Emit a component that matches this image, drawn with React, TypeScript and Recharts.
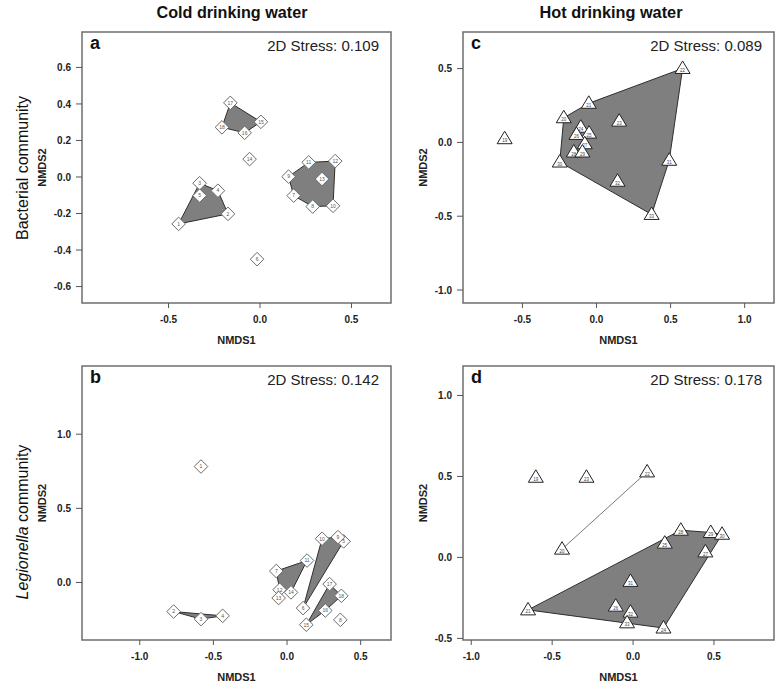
import React from 'react';
import { ScatterChart, Scatter, XAxis, YAxis, ReferenceArea } from 'recharts';

type Pt = { id: string; x: number; y: number };

const FONT = "'Liberation Sans', Arial, Helvetica, sans-serif";

// ---------- data ----------
const columnTitles = ['Cold drinking water', 'Hot drinking water'];
const panelLetters = ['a', 'b', 'c', 'd'];
const stressValues = ['0.109', '0.142', '0.089', '0.178'];

const aPoints: Pt[] = [
  { id: '1', x: -0.445, y: -0.257 },
  { id: '2', x: -0.175, y: -0.202 },
  { id: '3', x: -0.33, y: -0.034 },
  { id: '4', x: -0.23, y: -0.075 },
  { id: '5', x: -0.33, y: -0.102 },
  { id: '6', x: -0.016, y: -0.45 },
  { id: '7', x: 0.184, y: -0.102 },
  { id: '8', x: 0.288, y: -0.162 },
  { id: '9', x: 0.156, y: 0.002 },
  { id: '10', x: 0.399, y: -0.158 },
  { id: '11', x: 0.266, y: 0.08 },
  { id: '12', x: 0.411, y: 0.087 },
  { id: '13', x: 0.339, y: -0.011 },
  { id: '14', x: -0.057, y: 0.098 },
  { id: '15', x: 0.005, y: 0.302 },
  { id: '16', x: -0.084, y: 0.242 },
  { id: '17', x: -0.162, y: 0.406 },
  { id: '18', x: -0.208, y: 0.272 },
];
const aGroups: string[][] = [
  ['1', '2', '3', '4', '5'],
  ['7', '8', '9', '10', '11', '12', '13'],
  ['15', '16', '17', '18'],
];

const bPoints: Pt[] = [
  { id: '1', x: -0.584, y: 0.782 },
  { id: '2', x: -0.77, y: -0.196 },
  { id: '3', x: -0.584, y: -0.247 },
  { id: '4', x: -0.437, y: -0.225 },
  { id: '5', x: 0.384, y: 0.277 },
  { id: '6', x: 0.109, y: -0.173 },
  { id: '7', x: -0.073, y: 0.077 },
  { id: '8', x: 0.362, y: -0.252 },
  { id: '9', x: 0.346, y: 0.306 },
  { id: '10', x: 0.238, y: 0.295 },
  { id: '11', x: 0.136, y: 0.148 },
  { id: '12', x: -0.05, y: -0.049 },
  { id: '13', x: -0.057, y: -0.105 },
  { id: '14', x: 0.027, y: -0.067 },
  { id: '15', x: 0.131, y: -0.285 },
  { id: '16', x: 0.26, y: -0.189 },
  { id: '17', x: 0.289, y: -0.011 },
  { id: '18', x: 0.369, y: -0.09 },
];
const bGroups: string[][] = [
  ['2', '3', '4'],
  ['7', '11', '14', '12'],
  ['6', '10', '9', '5'],
  ['15', '16', '17', '18'],
];

const cPoints: Pt[] = [
  { id: '19', x: -0.62, y: 0.025 },
  { id: '20', x: -0.221, y: 0.167 },
  { id: '21', x: -0.052, y: 0.265 },
  { id: '22', x: 0.581, y: 0.501 },
  { id: '23', x: 0.153, y: 0.144 },
  { id: '24', x: -0.106, y: 0.103 },
  { id: '25', x: -0.05, y: 0.063 },
  { id: '26', x: -0.135, y: 0.054 },
  { id: '27', x: -0.079, y: -0.009 },
  { id: '28', x: -0.153, y: -0.065 },
  { id: '29', x: -0.095, y: -0.065 },
  { id: '30', x: -0.248, y: -0.133 },
  { id: '31', x: 0.491, y: -0.121 },
  { id: '32', x: 0.142, y: -0.263 },
  { id: '33', x: 0.372, y: -0.488 },
];
const cGroups: string[][] = [
  ['20', '21', '22', '23', '24', '25', '26', '27', '28', '29', '30', '31', '32', '33'],
];

const dPoints: Pt[] = [
  { id: '19', x: -0.601, y: 0.495 },
  { id: '20', x: -0.439, y: 0.051 },
  { id: '21', x: -0.649, y: -0.324 },
  { id: '22', x: 0.087, y: 0.528 },
  { id: '23', x: -0.288, y: 0.495 },
  { id: '24', x: 0.188, y: -0.436 },
  { id: '25', x: 0.196, y: 0.088 },
  { id: '26', x: -0.107, y: -0.301 },
  { id: '27', x: 0.447, y: 0.034 },
  { id: '28', x: 0.295, y: 0.168 },
  { id: '29', x: 0.48, y: 0.154 },
  { id: '30', x: 0.55, y: 0.143 },
  { id: '31', x: -0.016, y: -0.148 },
  { id: '32', x: -0.016, y: -0.338 },
  { id: '33', x: -0.037, y: -0.404 },
];
const dGroups: string[][] = [
  ['21', '24', '25', '26', '27', '28', '29', '30', '31', '32', '33'],
];
const dSegments: string[][] = [['20', '22']];

const aXTicks = [-0.5, 0, 0.5];
const aYTicks = [-0.6, -0.4, -0.2, 0, 0.2, 0.4, 0.6];
const bXTicks = [-1, -0.5, 0, 0.5];
const bYTicks = [0, 0.5, 1];
const cXTicks = [-0.5, 0, 0.5, 1];
const cYTicks = [-1, -0.5, 0, 0.5];
const dXTicks = [-1, -0.5, 0, 0.5];
const dYTicks = [-0.5, 0, 0.5, 1];

// ---------- helpers ----------
function convexHull(pts: Pt[]): Pt[] {
  const p = [...pts].sort((u, v) => (u.x === v.x ? u.y - v.y : u.x - v.x));
  if (p.length < 3) return p;
  const cross = (o: Pt, a: Pt, b: Pt) => (a.x - o.x) * (b.y - o.y) - (a.y - o.y) * (b.x - o.x);
  const lower: Pt[] = [];
  for (const q of p) {
    while (lower.length >= 2 && cross(lower[lower.length - 2], lower[lower.length - 1], q) <= 0) lower.pop();
    lower.push(q);
  }
  const upper: Pt[] = [];
  for (let i = p.length - 1; i >= 0; i--) {
    const q = p[i];
    while (upper.length >= 2 && cross(upper[upper.length - 2], upper[upper.length - 1], q) <= 0) upper.pop();
    upper.push(q);
  }
  upper.pop();
  lower.pop();
  return lower.concat(upper);
}

const pick = (pts: Pt[], ids: string[]) => ids.map((id) => pts.find((p) => p.id === id) as Pt);

const fmt = (v: number) => v.toFixed(1);

function Diamond(props: any) {
  const { cx, cy, payload } = props;
  const s = 6.8;
  return (
    <g>
      <polygon
        points={`${cx},${cy - s} ${cx + s},${cy} ${cx},${cy + s} ${cx - s},${cy}`}
        fill="#ffffff"
        stroke="#6a6a6a"
        strokeWidth={1}
      />
      <text x={cx} y={cy + 1.8} fontSize={5} textAnchor="middle" fill="#555555" fontFamily={FONT}>
        {payload.id}
      </text>
    </g>
  );
}

function Triangle(props: any) {
  const { cx, cy, payload } = props;
  return (
    <g>
      <polygon
        points={`${cx},${cy - 7.5} ${cx + 7.5},${cy + 5} ${cx - 7.5},${cy + 5}`}
        fill="#ffffff"
        stroke="#222222"
        strokeWidth={1}
      />
      <text x={cx} y={cy + 3.6} fontSize={4.5} textAnchor="middle" fill="#444444" fontFamily={FONT}>
        {payload.id}
      </text>
    </g>
  );
}

const Empty = () => <g />;

const YW = 80;
const XH = 50;
const MT = 5;
const MR = 2;

type PanelProps = {
  frame: [number, number, number, number];
  xDomain: [number, number];
  yDomain: [number, number];
  xTicks: number[];
  yTicks: number[];
  points: Pt[];
  groups: string[][];
  segments?: string[][];
  marker: 'diamond' | 'triangle';
};

function Panel({ frame, xDomain, yDomain, xTicks, yTicks, points, groups, segments, marker }: PanelProps) {
  const [l, t, r, b] = frame;
  const w = r - l + YW + MR;
  const h = b - t + MT + XH;
  const tickStyle = { fontSize: 10, fontWeight: 'bold', fill: '#222', fontFamily: FONT };
  const labelStyle = { fontSize: 11, fontWeight: 'bold', fill: '#222', fontFamily: FONT };
  return (
    <div style={{ position: 'absolute', left: l - YW, top: t - MT }}>
      <ScatterChart width={w} height={h} margin={{ top: MT, right: MR, bottom: 0, left: 0 }}>
        <XAxis
          type="number"
          dataKey="x"
          domain={xDomain}
          allowDataOverflow
          ticks={xTicks}
          interval={0}
          tickFormatter={fmt}
          axisLine={false}
          tickLine={{ stroke: '#555' }}
          tickSize={5}
          tickMargin={8}
          height={XH}
          tick={tickStyle}
          label={{ value: 'NMDS1', position: 'insideBottom', offset: 9, style: labelStyle }}
        />
        <YAxis
          type="number"
          dataKey="y"
          domain={yDomain}
          allowDataOverflow
          ticks={yTicks}
          interval={0}
          tickFormatter={fmt}
          axisLine={false}
          tickLine={{ stroke: '#555' }}
          tickSize={6}
          tickMargin={5}
          width={YW}
          tick={tickStyle}
          label={{ value: 'NMDS2', angle: -90, position: 'center', style: labelStyle }}
        />
        <ReferenceArea
          x1={xDomain[0]}
          x2={xDomain[1]}
          y1={yDomain[0]}
          y2={yDomain[1]}
          fill="none"
          fillOpacity={0}
          stroke="#6e6e6e"
          strokeWidth={1.5}
          ifOverflow="visible"
        />
        {groups.map((g, i) => {
          const hp = convexHull(pick(points, g));
          const closed = hp.concat([hp[0]]);
          return (
            <Scatter
              key={'h' + i}
              data={closed}
              shape={Empty}
              line={{ fill: '#7f7f7f', stroke: '#2e2e2e', strokeWidth: 1 }}
              lineType="joint"
              isAnimationActive={false}
            />
          );
        })}
        {(segments || []).map((g, i) => (
          <Scatter
            key={'s' + i}
            data={pick(points, g)}
            shape={Empty}
            fill="none"
            line={{ stroke: '#7a7a7a', strokeWidth: 1, fill: 'none' }}
            lineType="joint"
            isAnimationActive={false}
          />
        ))}
        <Scatter
          data={points}
          shape={marker === 'diamond' ? Diamond : Triangle}
          isAnimationActive={false}
        />
      </ScatterChart>
    </div>
  );
}

const FA: [number, number, number, number] = [82, 32, 391, 303];
const FB: [number, number, number, number] = [82, 366, 391, 640];
const FC: [number, number, number, number] = [463, 32, 774, 303];
const FD: [number, number, number, number] = [463, 366, 774, 640];

export default function App() {
  const frames = [FA, FB, FC, FD];
  return (
    <div
      style={{
        position: 'absolute',
        left: 0,
        top: 0,
        width: 776,
        height: 683,
        background: '#ffffff',
        overflow: 'hidden',
      }}
    >
      <Panel frame={FA} xDomain={[-0.973, 0.716]} yDomain={[-0.69, 0.794]} xTicks={aXTicks} yTicks={aYTicks}
        points={aPoints} groups={aGroups} marker="diamond" />
      <Panel frame={FB} xDomain={[-1.392, 0.706]} yDomain={[-0.388, 1.46]} xTicks={bXTicks} yTicks={bYTicks}
        points={bPoints} groups={bGroups} marker="diamond" />
      <Panel frame={FC} xDomain={[-0.901, 1.198]} yDomain={[-1.088, 0.748]} xTicks={cXTicks} yTicks={cYTicks}
        points={cPoints} groups={cGroups} marker="triangle" />
      <Panel frame={FD} xDomain={[-1.051, 0.871]} yDomain={[-0.51, 1.182]} xTicks={dXTicks} yTicks={dYTicks}
        points={dPoints} groups={dGroups} segments={dSegments} marker="triangle" />
      <svg
        width={776}
        height={683}
        style={{ position: 'absolute', left: 0, top: 0, pointerEvents: 'none' }}
      >
        <text x={232} y={18} textAnchor="middle" fontFamily={FONT} fontWeight="bold" fontSize={17}
          textLength={151} lengthAdjust="spacingAndGlyphs" fill="#111">
          {columnTitles[0]}
        </text>
        <text x={611} y={18} textAnchor="middle" fontFamily={FONT} fontWeight="bold" fontSize={17}
          textLength={143} lengthAdjust="spacingAndGlyphs" fill="#111">
          {columnTitles[1]}
        </text>
        <text
          transform="translate(22,168) rotate(-90)"
          textAnchor="middle"
          dominantBaseline="central"
          fontFamily={FONT}
          fontSize={16}
          fill="#111"
        >
          Bacterial community
        </text>
        <text
          transform="translate(22,522) rotate(-90)"
          textAnchor="middle"
          dominantBaseline="central"
          fontFamily={FONT}
          fontSize={16}
          fill="#111"
        >
          <tspan fontStyle="italic">Legionella</tspan> community
        </text>
        {frames.map((f, i) => (
          <g key={i}>
            <text x={f[0] + 8} y={f[1] + 17} fontFamily={FONT} fontWeight="bold" fontSize={18} fill="#111">
              {panelLetters[i]}
            </text>
            <text x={f[2] - 12} y={f[1] + 19} textAnchor="end" fontFamily={FONT} fontSize={15} fill="#222">
              {'2D Stress: ' + stressValues[i]}
            </text>
          </g>
        ))}
      </svg>
    </div>
  );
}
